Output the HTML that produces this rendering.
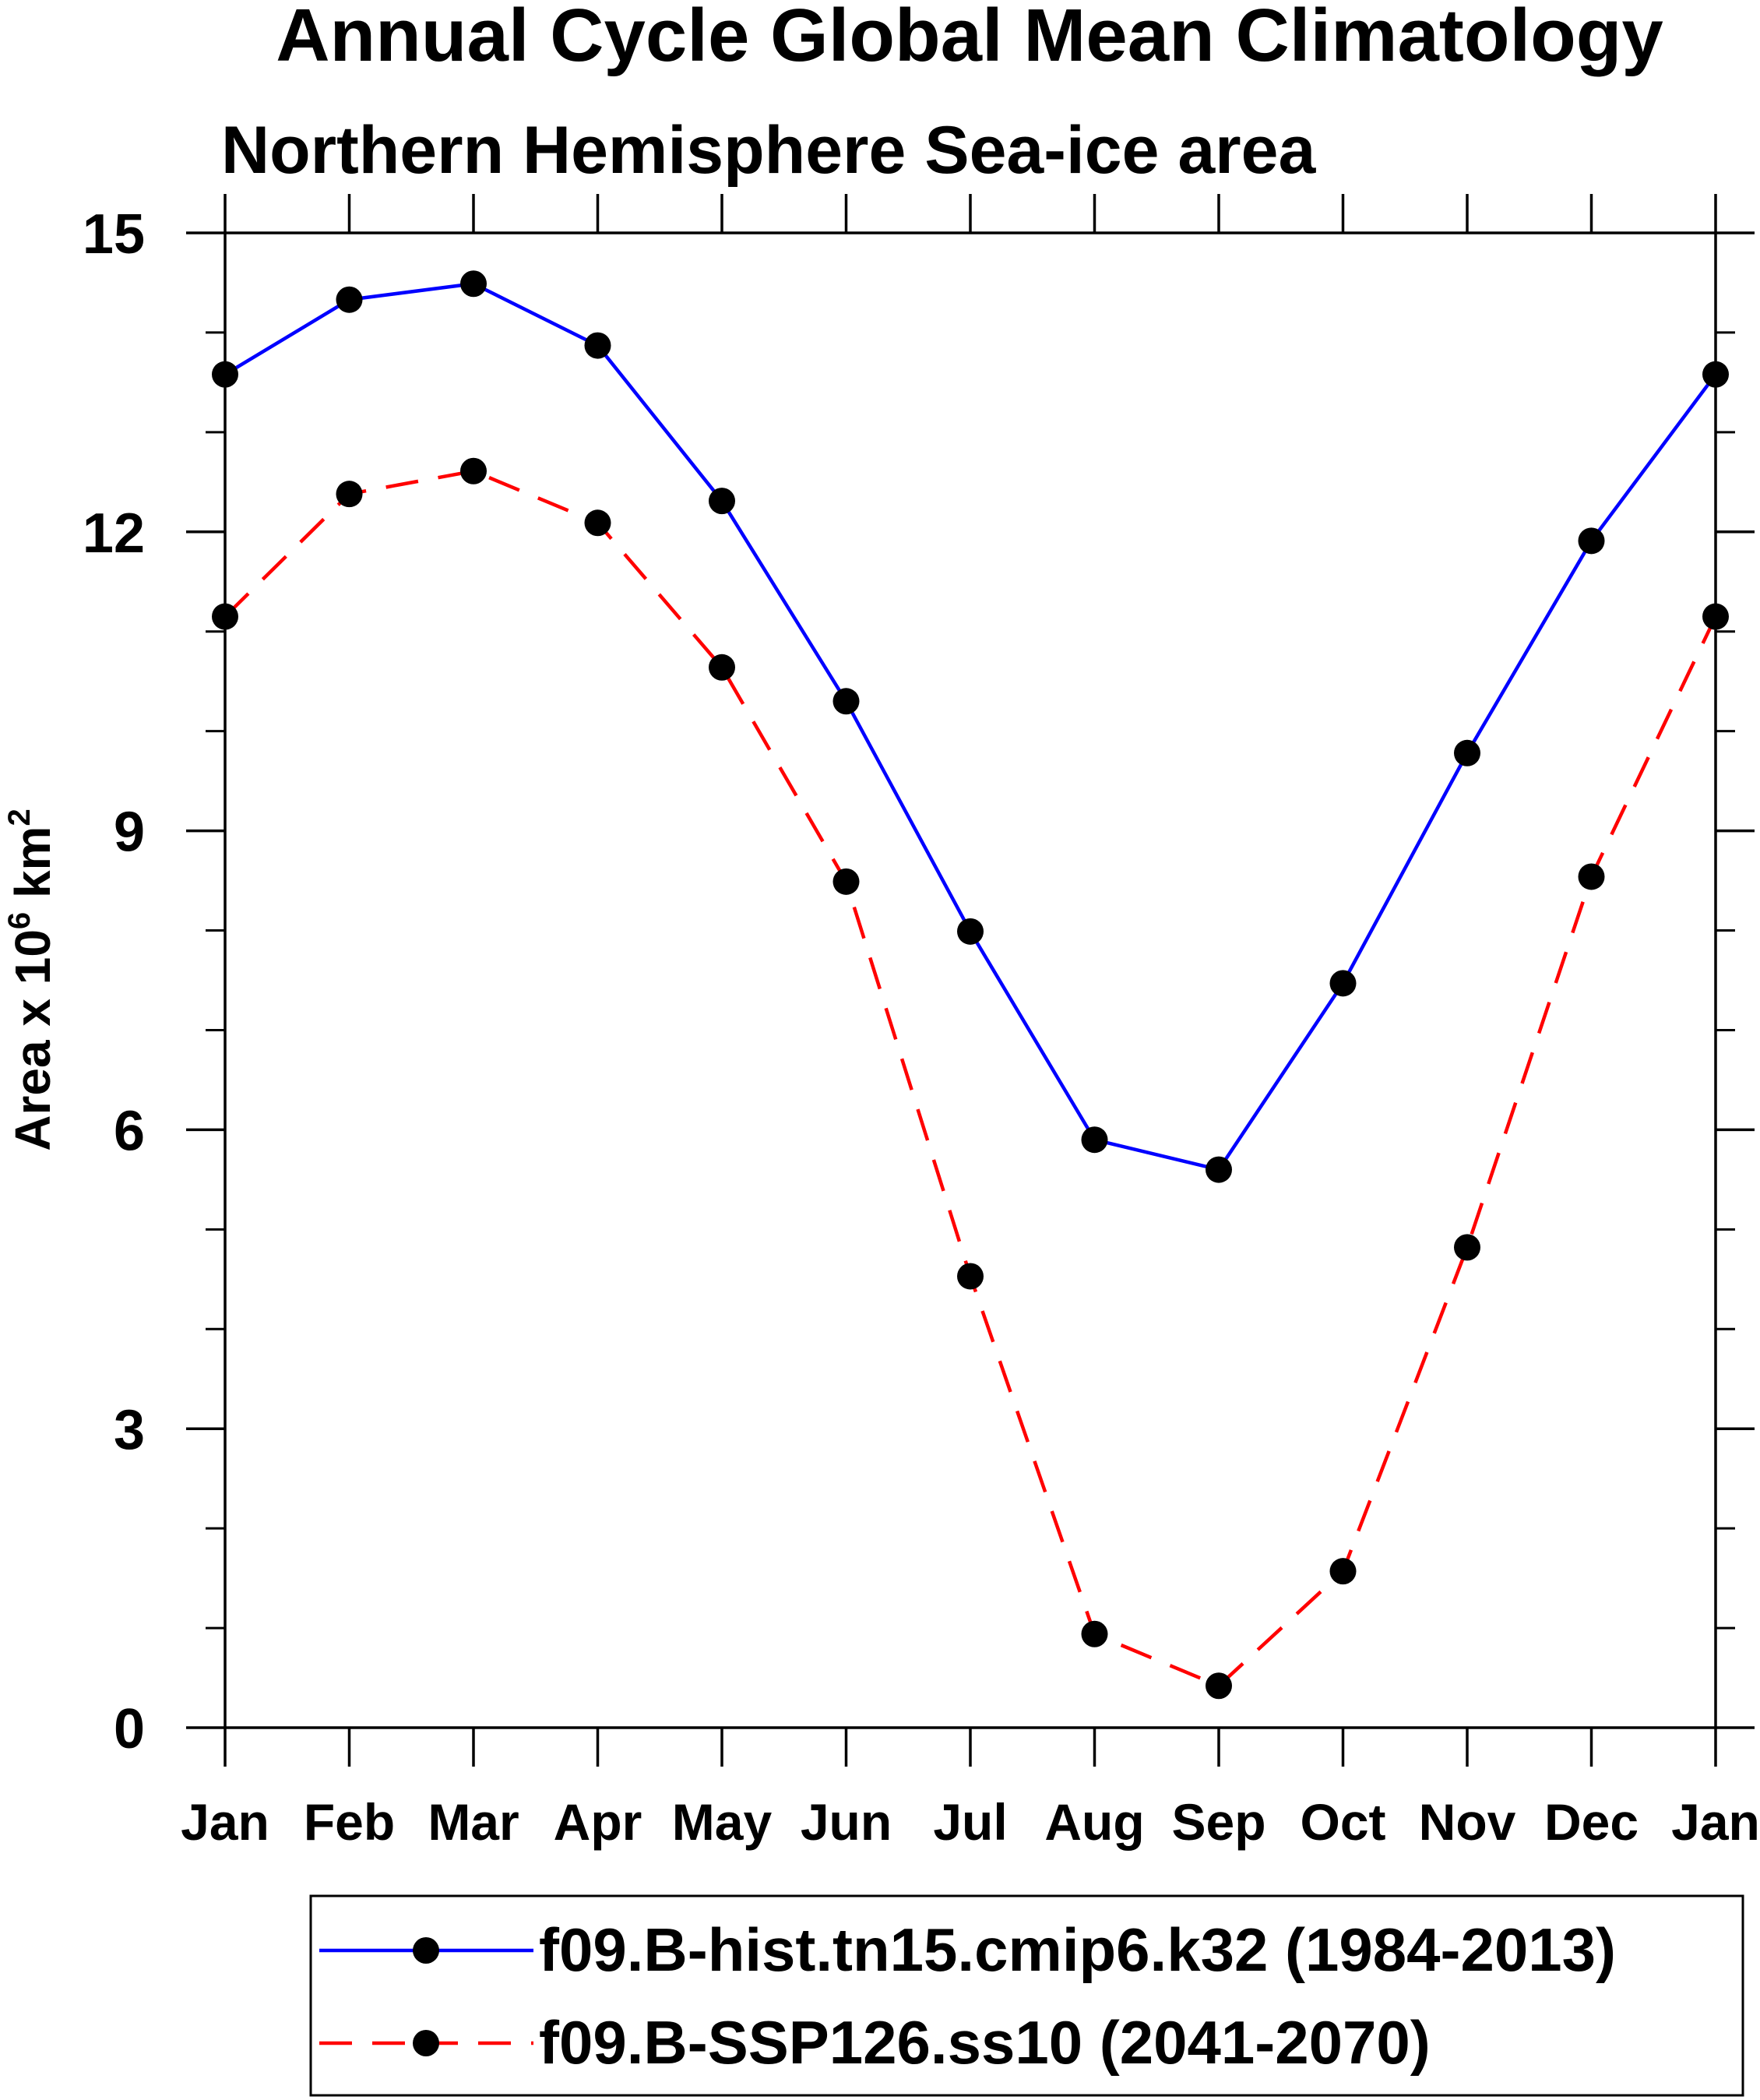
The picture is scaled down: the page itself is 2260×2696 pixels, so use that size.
<!DOCTYPE html>
<html><head><meta charset="utf-8"><style>html,body{margin:0;padding:0;background:#fff}svg{display:block}text{font-family:"Liberation Sans",sans-serif;font-weight:bold;fill:#000}</style></head>
<body>
<svg id="chart" width="2260" height="2696" viewBox="0 0 2260 2696" xmlns="http://www.w3.org/2000/svg">
<text x="1245" y="78" font-size="96" text-anchor="middle">Annual Cycle Global Mean Climatology</text>
<text x="284" y="222" font-size="86">Northern Hemisphere Sea-ice area</text>
<text transform="translate(64,1258) rotate(-90)" font-size="64" text-anchor="middle">Area x 10<tspan dy="-26" font-size="40">6</tspan><tspan dy="26"> km</tspan><tspan dy="-26" font-size="40">2</tspan></text>
<g id="axes"></g>
<g id="series"></g>
<rect x="399" y="2434" width="1839" height="256" fill="none" stroke="#000" stroke-width="3"/>
<g>
<line x1="410" y1="2504" x2="685" y2="2504" stroke="#0000ff" stroke-width="4.5"/>
<circle cx="547" cy="2504" r="17" fill="#000"/>
<text x="692" y="2530" font-size="78">f09.B-hist.tn15.cmip6.k32 (1984-2013)</text>
</g>
<g>
<line x1="410" y1="2623" x2="685" y2="2623" stroke="#ff0000" stroke-width="4.5" stroke-dasharray="42,26"/>
<circle cx="547" cy="2623" r="17" fill="#000"/>
<text x="692" y="2649" font-size="78">f09.B-SSP126.ss10 (2041-2070)</text>
</g>
</svg>
<script>
const months = ["Jan","Feb","Mar","Apr","May","Jun","Jul","Aug","Sep","Oct","Nov","Dec","Jan"];
const histValues = [13.58,14.33,14.49,13.87,12.31,10.30,7.99,5.90,5.60,7.47,9.78,11.91,13.58];
const sspValues = [11.15,12.38,12.61,12.09,10.64,8.49,4.53,0.94,0.42,1.57,4.82,8.54,11.15];
const yTicks = [0,3,6,9,12,15];
const yMinorTicks = [1,2,4,5,7,8,10,11,13,14];

const NS = "http://www.w3.org/2000/svg";
const L = 289, R = 2203, T = 299, B = 2218;
const x = i => L + (R - L) * i / (months.length - 1);
const y = v => B - (B - T) * v / 15;
function mk(tag, attrs, parent) {
  const e = document.createElementNS(NS, tag);
  for (const k in attrs) e.setAttribute(k, attrs[k]);
  parent.appendChild(e);
  return e;
}
const axes = document.getElementById("axes");
const frame = mk("rect", {x:L, y:T, width:R-L, height:B-T, fill:"none", stroke:"#000", "stroke-width":3.5}, axes);


months.forEach((m, i) => {
  const xx = x(i);
  const t1 = mk("line", {x1:xx, y1:B, x2:xx, y2:B+50, stroke:"#000", "stroke-width":3.5}, axes);
  
  
  const t2 = mk("line", {x1:xx, y1:T, x2:xx, y2:T-50, stroke:"#000", "stroke-width":3.5}, axes);
  
  
  const lb = mk("text", {x:xx, y:2362, "font-size":66, "text-anchor":"middle"}, axes);
  lb.textContent = m;
  
  
});
yTicks.forEach(v => {
  const yy = y(v);
  const t1 = mk("line", {x1:L-50, y1:yy, x2:L, y2:yy, stroke:"#000", "stroke-width":3.5}, axes);
  
  
  const t2 = mk("line", {x1:R, y1:yy, x2:R+50, y2:yy, stroke:"#000", "stroke-width":3.5}, axes);
  
  
  const lb = mk("text", {x:186, y:yy+26, "font-size":72, "text-anchor":"end"}, axes);
  lb.textContent = v;
  
  
});
yMinorTicks.forEach(v => {
  const yy = y(v);
  const t1 = mk("line", {x1:L-25, y1:yy, x2:L, y2:yy, stroke:"#000", "stroke-width":3}, axes);
  
  
  const t2 = mk("line", {x1:R, y1:yy, x2:R+25, y2:yy, stroke:"#000", "stroke-width":3}, axes);
  
  
});
const series = document.getElementById("series");
function drawSeries(vals, color, dash, name) {
  const pts = vals.map((v, i) => x(i) + "," + y(v)).join(" ");
  const pl = mk("polyline", {points:pts, fill:"none", stroke:color, "stroke-width":4.5, "stroke-dasharray":dash, "stroke-linejoin":"round"}, series);
  
  
  vals.forEach((v, i) => {
    const c = mk("circle", {cx:x(i), cy:y(v), r:17, fill:"#000"}, series);
    
    
  });
}
drawSeries(histValues, "#0000ff", "none", "hist");
drawSeries(sspValues, "#ff0000", "42,26", "ssp126");
</script>
</body></html>
